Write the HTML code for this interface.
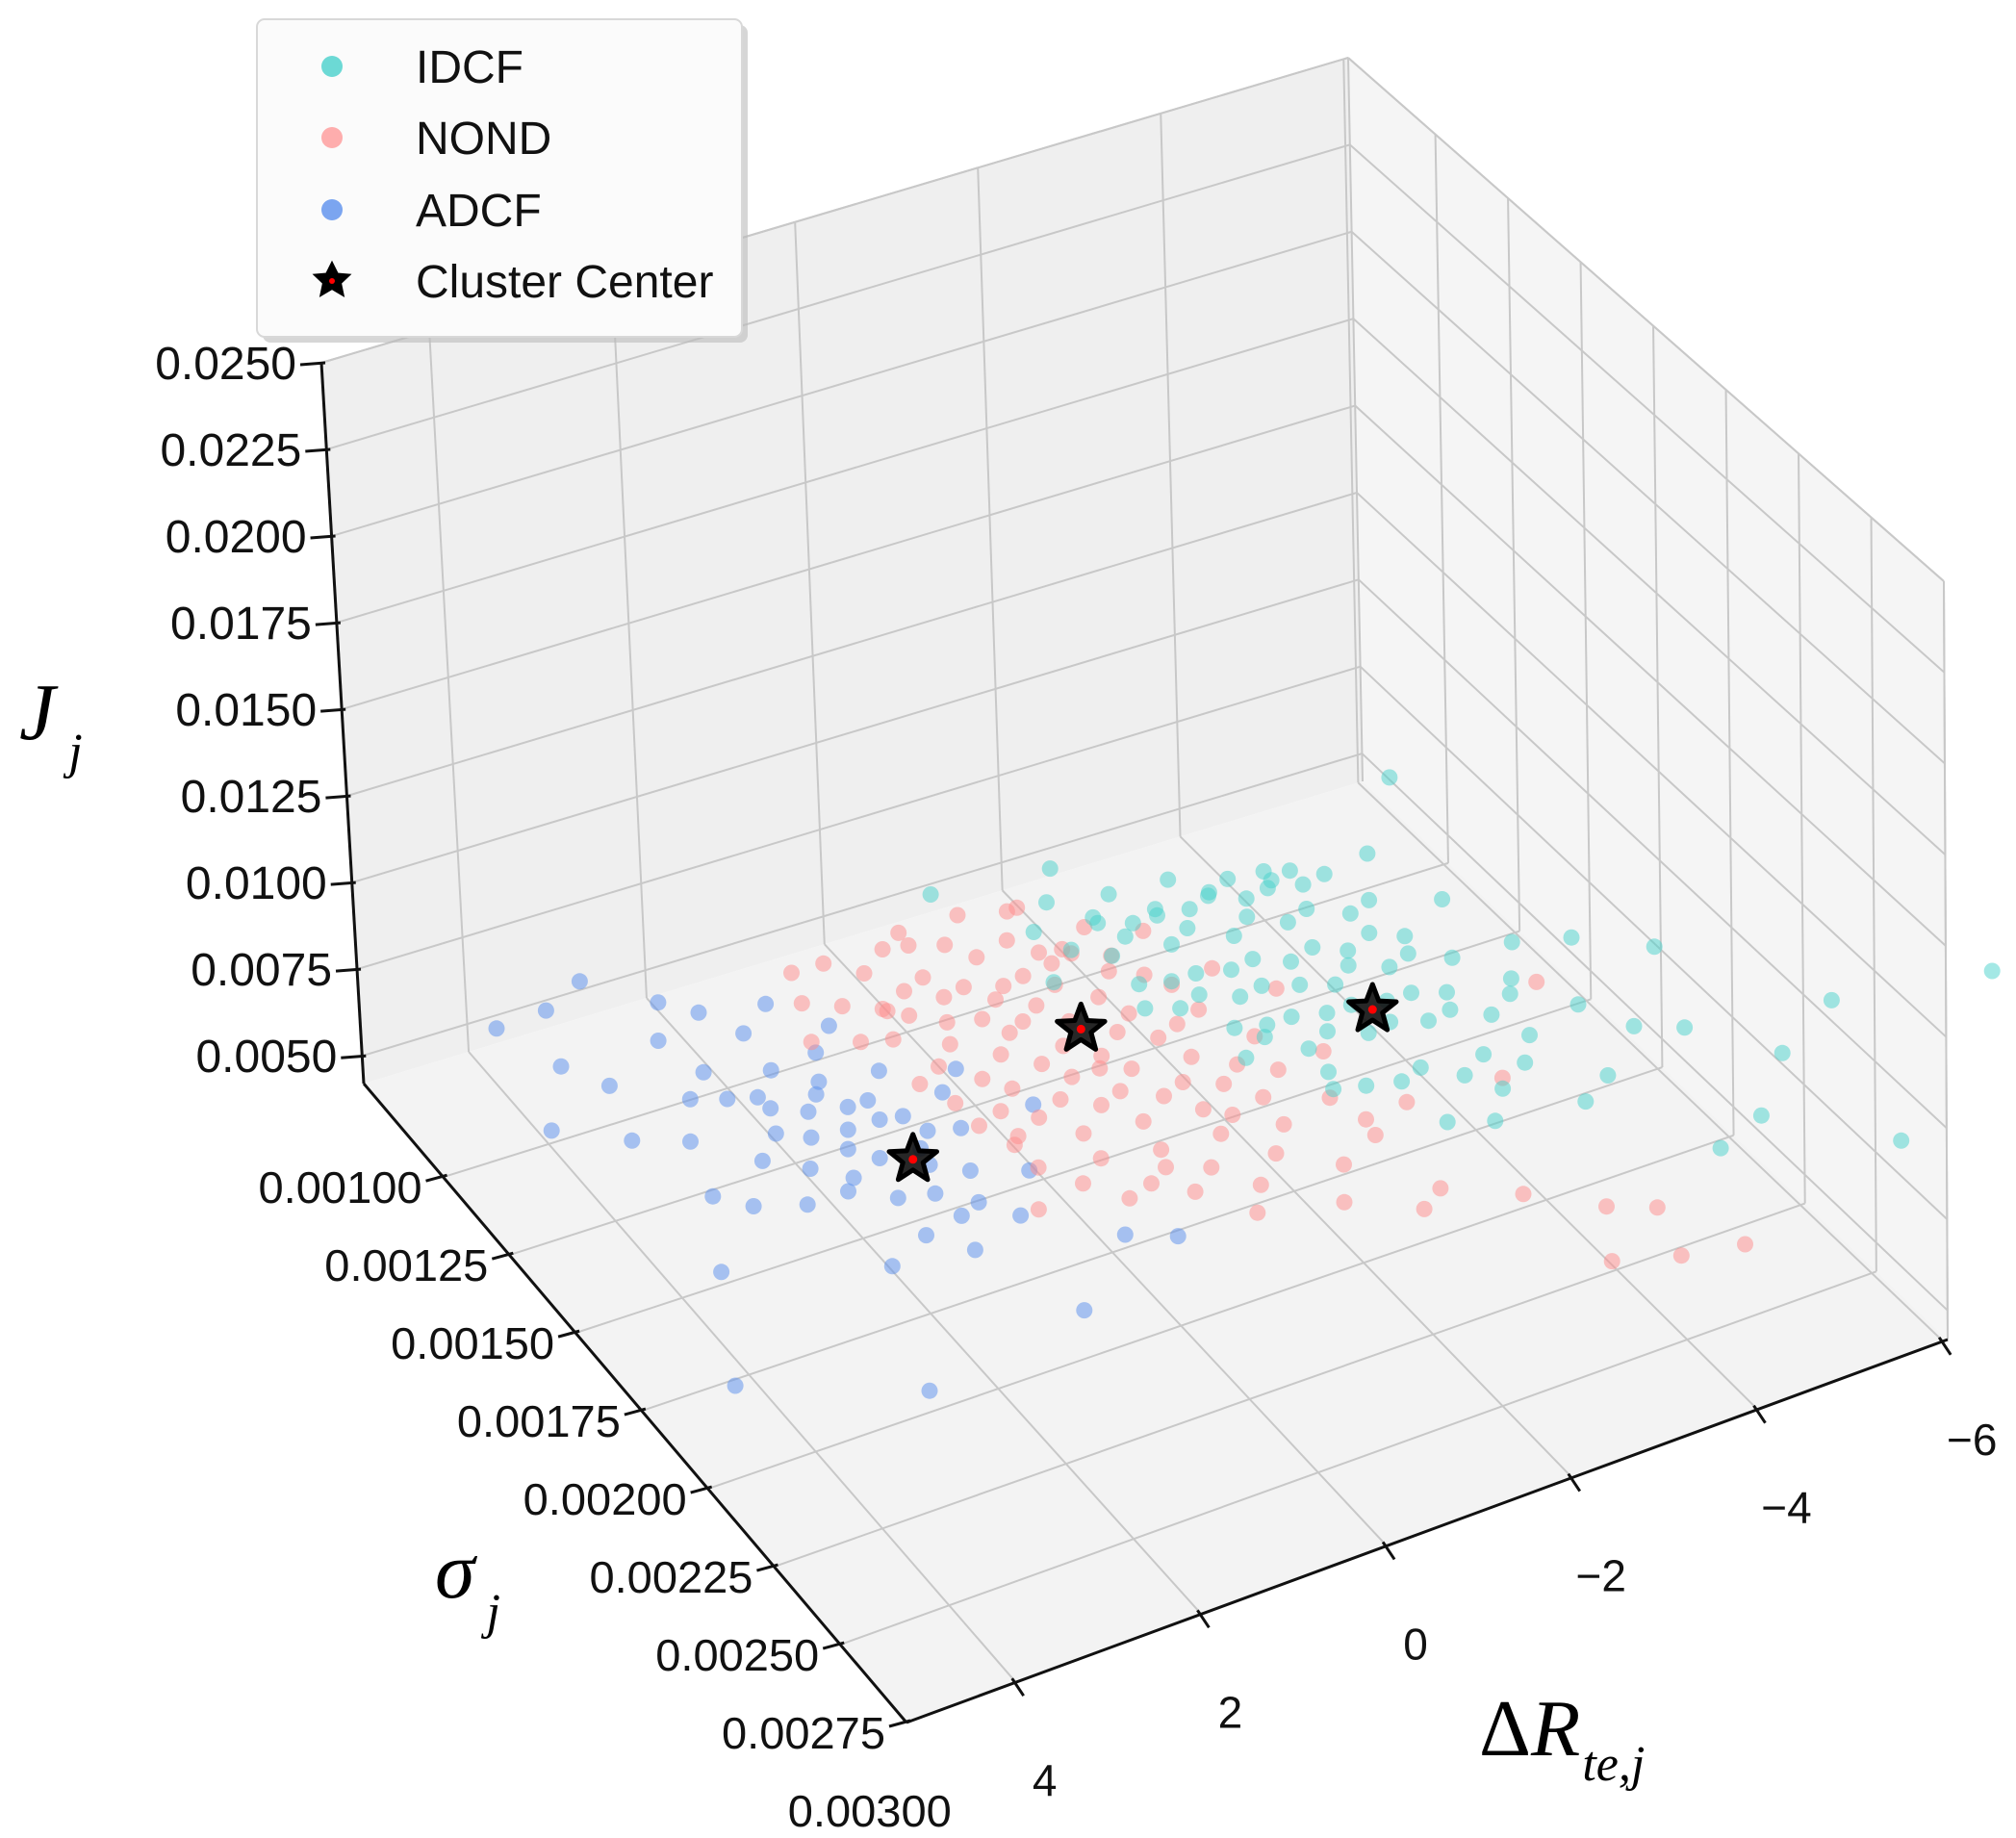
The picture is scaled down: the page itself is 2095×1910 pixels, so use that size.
<!DOCTYPE html>
<html><head><meta charset="utf-8"><style>
html,body{margin:0;padding:0;background:#fff;}
svg{display:block;font-family:"Liberation Sans",sans-serif;}
</style></head><body>
<svg id="chart" width="2095" height="1910" viewBox="0 0 2095 1910" xmlns="http://www.w3.org/2000/svg">
<g id="panes"></g>
<g id="grid"></g>
<g id="axes"></g>
<g id="pts"></g>
<g id="stars"></g>
<g id="labels"></g>
<text x="20" y="768" font-family="Liberation Serif,serif" font-style="italic" font-size="84">J<tspan font-size="52" dx="14" dy="30">j</tspan></text>
<text x="452" y="1660" font-family="Liberation Serif,serif" font-style="italic" font-size="84">σ<tspan font-size="52" dx="12" dy="32">j</tspan></text>
<text x="1537" y="1824" font-family="Liberation Serif,serif" font-size="84">Δ<tspan font-style="italic">R</tspan><tspan font-style="italic" font-size="52" dx="2" dy="26">te,j</tspan></text>
<g>
<rect x="273" y="26" width="504" height="330" rx="8" fill="#bbb" opacity="0.6"/>
<rect x="267" y="20" width="504" height="330" rx="8" fill="#fbfbfb" stroke="#d8d8d8" stroke-width="2"/>
<circle cx="345" cy="69" r="11" fill="#48d1cc" fill-opacity="0.8"/>
<text x="432" y="86" font-size="48" fill="#111">IDCF</text>
<circle cx="345" cy="143" r="11" fill="#ff8c8c" fill-opacity="0.7"/>
<text x="432" y="160" font-size="48" fill="#111">NOND</text>
<circle cx="345" cy="218" r="11" fill="#6495ed" fill-opacity="0.85"/>
<text x="432" y="235" font-size="48" fill="#111">ADCF</text>
<path d="M345,274 L350.5,285 L362,286 L353.5,294 L356,306 L345,299.5 L334,306 L336.5,294 L328,286 L339.5,285 Z" fill="#000" stroke="#000" stroke-width="3"/>
<circle cx="345" cy="292" r="3" fill="red"/>
<text x="432" y="309" font-size="48" fill="#111">Cluster Center</text>
</g>
</svg>
<script>
const jTicks=[0.0050,0.0075,0.0100,0.0125,0.0150,0.0175,0.0200,0.0225,0.0250];
const jTickLabels=["0.0050","0.0075","0.0100","0.0125","0.0150","0.0175","0.0200","0.0225","0.0250"];
const sTicks=[0.00100,0.00125,0.00150,0.00175,0.00200,0.00225,0.00250,0.00275,0.00300];
const sTickLabels=["0.00100","0.00125","0.00150","0.00175","0.00200","0.00225","0.00250","0.00275","0.00300"];
const rTicks=[4,2,0,-2,-4,-6];
const rTickLabels=["4","2","0","\u22122","\u22124","\u22126"];
// ADCF (sigma and J in units of 1e-3)
const adcfR=[3.9,3.4,2.9,3.6,3.3,4.1,4.4,3.7,2.8,2.2,-0.4,0.0,0.9,3.0,2.6,2.3,2.0,2.4,2.1,1.8,1.6,1.4,1.2,1.0,1.5,1.7,1.9,1.1,0.8,0.6,0.5,0.9,1.3,2.7,2.5,2.9,3.2,1.2,0.3,0.2,1.6,2.0,1.8,1.4,2.2,0.7,3.5,-0.2,1.0,
 2.35,2.05,1.75,1.45,1.15,0.85,2.15,1.85,1.55,1.25,0.95,2.45,1.65,1.35,1.05];
const adcfS=[0.78,0.80,0.76,0.92,1.00,1.05,1.84,1.55,2.02,1.68,1.86,1.80,1.95,1.20,0.95,0.85,0.90,1.05,1.15,1.10,1.20,1.25,1.30,1.32,1.40,1.35,1.28,1.45,1.50,1.40,1.30,1.20,1.10,1.10,1.30,1.40,1.35,1.60,1.55,1.25,1.50,1.45,1.00,0.95,1.25,1.65,1.15,1.40,1.05,
 1.12,1.18,1.22,1.16,1.24,1.36,1.36,1.42,1.30,1.52,1.58,1.45,1.62,1.70,1.40];
const adcfJ=[5.5,5.8,5.9,5.4,5.3,5.1,5.0,5.1,5.0,5.1,5.2,5.1,5.0,5.2,5.6,5.6,5.5,5.4,5.3,5.4,5.4,5.3,5.2,5.3,5.2,5.2,5.1,5.1,5.1,5.3,5.4,5.5,5.5,5.3,5.1,5.0,5.1,5.0,5.1,5.4,5.0,5.1,5.6,5.7,5.2,5.0,5.2,5.3,5.6,
 5.2,5.2,5.2,5.3,5.2,5.1,5.1,5.1,5.2,5.0,5.0,5.1,5.0,5.0,5.1];
// NOND
const nondR=[0.9,0.6,0.3,0.0,-0.3,-0.6,-0.9,-1.2,-1.5,0.7,0.4,0.1,-0.2,-0.5,-0.8,-1.1,-1.4,-1.7,-2.0,0.8,0.5,0.2,-0.1,-0.4,-0.7,-1.0,-1.3,-1.6,-1.9,-2.2,0.6,0.3,0.0,-0.3,-0.6,-0.9,-1.2,-1.5,-1.8,-2.1,-2.4,0.4,0.1,-0.2,-0.5,-0.8,-1.1,-1.4,-1.7,-2.0,-2.3,-2.6,0.2,-0.4,-1.0,-1.6,-2.2,-2.8,-3.1,-2.9,-2.4,-1.9,-3.4,-3.0,-2.7,-2.1,-3.6,-4.2,-4.6,-5.0,-4.4,-3.8,-5.3,-4.3,-1.3,-0.2,1.0,1.2,-2.5,-2.8,-3.2,-0.9,0.5,-1.3,-1.6,-0.7,-1.0,
 0.35,0.05,-0.25,-0.55,-0.85,-1.15,-1.45,-1.75,-2.05,-2.35,0.45,0.15,-0.15,-0.45,-0.75,-1.05,-1.35,-1.65,-1.95,-2.25,-0.35,-0.65,-0.95,-1.25,-1.55,-1.85,-2.65,-2.95,0.25,-0.05];
const nondS=[0.88,0.90,0.95,0.92,0.88,0.95,0.90,0.98,0.92,1.00,1.05,1.03,1.00,1.05,1.00,1.07,1.03,1.05,1.00,1.10,1.12,1.08,1.12,1.15,1.10,1.15,1.12,1.18,1.12,1.15,1.25,1.22,1.28,1.25,1.30,1.28,1.32,1.28,1.33,1.30,1.28,1.40,1.38,1.42,1.40,1.45,1.42,1.48,1.45,1.50,1.45,1.50,1.55,1.58,1.60,1.62,1.65,1.62,1.50,1.75,1.80,1.72,1.70,1.95,1.99,1.90,2.05,2.15,2.20,2.38,2.35,2.30,1.55,1.75,0.95,0.95,0.95,1.05,1.05,1.20,1.30,1.65,1.65,1.85,1.05,1.20,1.38,
 1.05,1.18,1.06,1.20,1.08,1.22,1.06,1.24,1.08,1.20,1.33,1.46,1.34,1.50,1.36,1.52,1.38,1.54,1.40,1.56,1.70,1.68,1.74,1.70,1.78,1.58,1.40,1.70,1.48,1.63];
const nondJ=[5.6,5.8,5.7,5.9,5.8,5.8,6.0,5.7,5.9,5.5,5.6,5.7,5.6,5.5,5.7,5.5,5.6,5.5,5.6,5.4,5.4,5.5,5.4,5.5,5.4,5.4,5.5,5.4,5.4,5.3,5.3,5.3,5.2,5.4,5.3,5.4,5.2,5.3,5.3,5.2,5.2,5.2,5.2,5.1,5.2,5.2,5.1,5.2,5.1,5.2,5.1,5.1,5.1,5.1,5.0,5.1,5.1,5.1,5.2,5.0,5.0,5.1,5.1,5.0,5.0,5.0,5.1,5.0,5.0,5.0,5.0,5.0,5.7,5.4,6.2,6.1,5.4,5.3,5.5,5.4,5.3,5.0,5.0,5.0,5.7,5.6,5.5,
 5.5,5.4,5.5,5.4,5.5,5.4,5.5,5.3,5.4,5.3,5.3,5.2,5.3,5.1,5.3,5.1,5.2,5.1,5.2,5.1,5.0,5.0,5.0,5.1,5.0,5.1,5.2,5.0,5.2,5.1];
// IDCF
const idcfR=[-1.5,-1.8,-2.1,-2.4,-2.7,-3.0,-3.3,-3.6,-3.9,-4.2,-1.7,-2.0,-2.3,-2.6,-2.9,-3.2,-3.5,-3.8,-4.1,-4.4,-4.7,-1.9,-2.2,-2.5,-2.8,-3.1,-3.4,-3.7,-4.0,-4.3,-4.6,-4.9,-2.4,-2.7,-3.0,-3.3,-3.6,-3.9,-4.2,-4.5,-4.8,-5.1,-3.2,-3.5,-3.8,-4.1,-4.4,-4.7,-3.6,-4.0,-4.3,-4.9,-5.3,-5.6,-5.9,-6.3,-5.5,-6.0,-6.6,-6.9,-6.2,-5.6,-7.1,-7.6,-9.2,-5.2,-2.0,-0.7,-6.1,-5.0,-1.2,-2.9,-4.0,
 -2.15,-2.45,-2.75,-3.05,-3.35,-3.65,-3.95,-4.25,-4.55,-2.05,-2.35,-2.65,-2.95,-3.25,-3.55,-3.85,-4.15,-4.45,-4.75,-2.55,-2.85,-3.15,-3.45,-3.75,-4.05,-4.35,-4.65,-5.0,-5.3,-3.0];
const idcfS=[0.98,0.93,1.00,0.96,1.03,0.98,1.03,1.00,1.06,1.03,1.05,1.10,1.05,1.12,1.08,1.15,1.10,1.15,1.12,1.18,1.15,1.25,1.28,1.25,1.30,1.28,1.32,1.35,1.30,1.35,1.32,1.38,1.45,1.42,1.48,1.45,1.50,1.48,1.52,1.50,1.55,1.52,1.62,1.65,1.62,1.68,1.65,1.70,1.78,1.82,1.75,1.85,1.80,1.60,1.70,1.75,1.40,1.45,1.55,1.90,2.05,2.10,2.25,1.85,1.90,1.25,0.88,0.87,0.78,1.05,1.15,1.60,1.00,
 1.00,1.03,1.02,1.04,1.01,1.05,1.03,1.06,1.04,1.18,1.20,1.19,1.22,1.20,1.24,1.22,1.25,1.23,1.26,1.36,1.38,1.37,1.40,1.39,1.42,1.41,1.44,1.62,1.46,1.55];
const idcfJ=[5.7,5.9,5.8,5.9,5.8,6.0,5.8,5.7,5.9,5.7,5.6,5.6,5.5,5.6,5.5,5.6,5.5,5.5,5.4,5.5,5.4,5.4,5.4,5.3,5.4,5.3,5.4,5.4,5.3,5.4,5.3,5.4,5.2,5.3,5.2,5.2,5.3,5.2,5.3,5.2,5.2,5.3,5.1,5.2,5.1,5.1,5.2,5.1,5.0,5.0,5.1,5.0,5.0,5.2,5.1,5.1,5.5,5.6,5.6,5.0,5.0,5.0,5.0,5.5,5.3,5.8,6.3,6.5,4.9,5.7,5.9,5.1,5.6,
 5.6,5.6,5.5,5.6,5.5,5.5,5.4,5.5,5.4,5.4,5.4,5.3,5.4,5.3,5.3,5.3,5.2,5.3,5.2,5.2,5.2,5.1,5.2,5.1,5.2,5.1,5.1,5.0,5.1,5.1];
// cluster centers: ADCF, NOND, IDCF
const centerR=[1.28,-1.16,-3.8];
const centerS=[1.45,1.26,1.45];
const centerJ=[5.4,5.5,5.4];

const DRMAX=5.18,DRMIN=-6.05,SMIN=0.0007,SMAX=0.00275,JMIN=0.0042,JMAX=0.0250;
const C={F00:[378,1126],F01:[1416,812],F10:[942,1790],F11:[2024,1392],T00:[334,377],T01:[1401,60],T10:[912,975],T11:[2020,604]};
function lerp(p,q,t){return [p[0]+(q[0]-p[0])*t,p[1]+(q[1]-p[1])*t];}
function P(dr,s,j){
  const a=(DRMAX-dr)/(DRMAX-DRMIN),b=(s-SMIN)/(SMAX-SMIN),c=(j-JMIN)/(JMAX-JMIN);
  const f=lerp(lerp(C.F00,C.F01,a),lerp(C.F10,C.F11,a),b);
  const t=lerp(lerp(C.T00,C.T01,a),lerp(C.T10,C.T11,a),b);
  return lerp(f,t,c);
}
const NS="http://www.w3.org/2000/svg";
function mk(tag,attrs,parent){const e=document.createElementNS(NS,tag);for(const k in attrs)e.setAttribute(k,attrs[k]);parent.appendChild(e);return e;}
function poly(pts){return pts.map(p=>p[0].toFixed(1)+","+p[1].toFixed(1)).join(" ");}
const panes=document.getElementById('panes'),grid=document.getElementById('grid'),axes=document.getElementById('axes'),pts=document.getElementById('pts'),stars=document.getElementById('stars'),labels=document.getElementById('labels');
let e;
e=mk('polygon',{points:poly([C.F00,C.F01,C.T01,C.T00]),fill:'#efefef'},panes);


e=mk('polygon',{points:poly([C.F01,C.F11,C.T11,C.T01]),fill:'#f5f5f5'},panes);


e=mk('polygon',{points:poly([C.F00,C.F01,C.F11,C.F10]),fill:'#f3f3f3'},panes);


function gl(p,q,name){const l=mk('line',{x1:p[0],y1:p[1],x2:q[0],y2:q[1],stroke:'#c8c8c8','stroke-width':2},grid);

}
gl(P(DRMIN,SMIN,JMIN),P(DRMIN,SMIN,JMAX),'back-corner-edge');
gl(P(DRMIN,SMAX,JMIN),P(DRMIN,SMAX,JMAX),'right-wall-edge');
gl(P(DRMIN,SMIN,JMAX),P(DRMIN,SMAX,JMAX),'right-wall-top-edge');
gl(P(DRMAX,SMIN,JMAX),P(DRMIN,SMIN,JMAX),'left-wall-top-edge');
jTicks.forEach(j=>{gl(P(DRMAX,SMIN,j),P(DRMIN,SMIN,j),'left-wall-j-gridline');gl(P(DRMIN,SMIN,j),P(DRMIN,SMAX,j),'right-wall-j-gridline');});
rTicks.forEach(r=>{if(r<DRMIN||r>DRMAX)return;gl(P(r,SMIN,JMIN),P(r,SMIN,JMAX),'left-wall-r-gridline');gl(P(r,SMIN,JMIN),P(r,SMAX,JMIN),'floor-r-gridline');});
sTicks.forEach(s=>{if(s>SMAX+1e-9)return;gl(P(DRMIN,s,JMIN),P(DRMIN,s,JMAX),'right-wall-s-gridline');gl(P(DRMAX,s,JMIN),P(DRMIN,s,JMIN),'floor-s-gridline');});
function al(p,q,name){const l=mk('line',{x1:p[0],y1:p[1],x2:q[0],y2:q[1],stroke:'#111','stroke-width':3},axes);

}
al(P(DRMAX,SMIN,JMIN),P(DRMAX,SMIN,JMAX),'j-axis-line');
al(P(DRMAX,SMIN,JMIN),P(DRMAX,SMAX,JMIN),'sigma-axis-line');
al(P(DRMAX,SMAX,JMIN),P(DRMIN,SMAX,JMIN),'delta-r-axis-line');
jTicks.forEach((j,i)=>{const p=P(DRMAX,SMIN,j);al([p[0]-22,p[1]+2],[p[0]+4,p[1]],'j-tick');
const t=mk('text',{x:p[0]-26,y:p[1]+17,'text-anchor':'end','font-size':48,fill:'#111'},labels);t.textContent=jTickLabels[i];

});
sTicks.forEach((s,i)=>{const p=P(DRMAX,s,JMIN);if(s<=SMAX+1e-9)al([p[0]-18,p[1]+4],[p[0]+4,p[1]-2],'sigma-tick');
const t=mk('text',{x:p[0]-22,y:p[1]+27,'text-anchor':'end','font-size':46,fill:'#111',textLength:170,lengthAdjust:'spacingAndGlyphs'},labels);t.textContent=sTickLabels[i];

});
rTicks.forEach((r,i)=>{const p=P(r,SMAX,JMIN);al([p[0]-4,p[1]-4],[p[0]+8,p[1]+14],'delta-r-tick');
const t=mk('text',{x:p[0]+30,y:p[1]+118,'text-anchor':'middle','font-size':46,fill:'#111'},labels);t.textContent=rTickLabels[i];

});
function drawSeries(R,S,J,color,op,name){
  for(let i=0;i<R.length;i++){const p=P(R[i],S[i]*1e-3,J[i]*1e-3);
    const c=mk('circle',{cx:p[0].toFixed(1),cy:p[1].toFixed(1),r:8.5,fill:color,'fill-opacity':op},pts);
    
    }
}
drawSeries(adcfR,adcfS,adcfJ,'#6495ed',0.55,'adcf-point');
drawSeries(nondR,nondS,nondJ,'#ff8c8c',0.5,'nond-point');
drawSeries(idcfR,idcfS,idcfJ,'#48d1cc',0.5,'idcf-point');
const cnames=['adcf-center','nond-center','idcf-center'];
for(let i=0;i<centerR.length;i++){const p=P(centerR[i],centerS[i]*1e-3,centerJ[i]*1e-3);
  let d='';for(let k=0;k<10;k++){const ang=-Math.PI/2+k*Math.PI/5;const rr=k%2?11:26;d+=(k?'L':'M')+(p[0]+rr*Math.cos(ang)).toFixed(1)+','+(p[1]+rr*Math.sin(ang)).toFixed(1);}
  const s=mk('path',{d:d+'Z',fill:'#111',stroke:'#000','stroke-width':5,'stroke-linejoin':'round','fill-opacity':0.9},stars);
  
  
  mk('circle',{cx:p[0],cy:p[1],r:4.5,fill:'red'},stars);}
</script>
</body></html>
